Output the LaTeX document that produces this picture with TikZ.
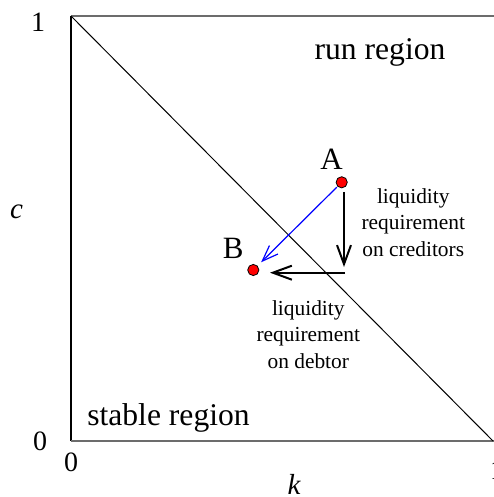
\documentclass[tikz,border=0pt]{standalone}
\usepackage{fontspec}
\setmainfont{Liberation Serif}
\usetikzlibrary{arrows.meta}
\tikzset{
  pt/.style={circle,fill=red,draw=black,line width=0.4pt,minimum size=5.6pt,inner sep=0pt},
  region/.style={font=\fontsize{15.8}{19}\selectfont,inner sep=0pt,anchor=base},
  tick/.style={font=\fontsize{14}{16}\selectfont,inner sep=0pt},
  axlab/.style={font=\fontsize{14.5}{16}\selectfont\itshape,inner sep=0pt},
  ptlab/.style={font=\fontsize{15.5}{18}\selectfont,inner sep=0pt},
  note/.style={font=\fontsize{10.7}{13.3}\selectfont,align=center,inner sep=0pt,anchor=north},
  movearrow/.style={line width=1pt,-{Straight Barb[length=9.5pt,width=7pt,line width=1pt]}},
  bluearrow/.style={blue,line width=0.6pt,-{Straight Barb[length=8pt,width=6pt]}},
  frameline/.style={line width=0.75pt},
}
\begin{document}
\begin{tikzpicture}[x=0.5pt,y=-0.5pt]
\useasboundingbox (0,0) rectangle (493,497);
% frame
\coordinate (O) at (71,441);
\coordinate (T) at (71,16);
\coordinate (TR) at (500,16);
\coordinate (BR) at (500,441);
\coordinate (D) at (493,441);
\draw[frameline,black] (O) -- (T);
\draw[frameline,gray!85!black] (T) -- (TR);
\draw[frameline,gray!85!black] (O) -- (BR);
\draw[line width=0.5pt] (T) -- (D);
% ticks and axis labels
\node[tick] (t1) at (38,22) {1};
\node[tick] (t0) at (40,441) {0};
\node[tick] (b0) at (71,462) {0};
\node[tick] (b1) at (497,470) {1};
\node[axlab] (c) at (16.5,212) {c};
\node[axlab] (k) at (294,484) {k};
% regions
\node[region] (run) at (380,60) {run region};
\node[region] (stable) at (168.5,425) {stable region};
% points
\node[pt] (A) at (341.7,182.3) {};
\node[pt] (B) at (253.3,270) {};
\node[ptlab] (Al) at (331.5,159.5) {A};
\node[ptlab] (Bl) at (233.3,248) {B};
% moves
\coordinate (v0) at (344,192);
\coordinate (v1) at (344,267);
\coordinate (h0) at (345,272.7);
\coordinate (h1) at (270,272.7);
\draw[movearrow] (v0) -- (v1);
\draw[movearrow] (h0) -- (h1);
\draw[bluearrow,shorten <=0.5pt,shorten >=2.5pt] (A) -- (B);
% notes
\node[note] (nc) at (413.3,188) {liquidity\\requirement\\on creditors};
\node[note] (nd) at (308.3,300) {liquidity\\requirement\\on debtor};
\end{tikzpicture}
\end{document}
